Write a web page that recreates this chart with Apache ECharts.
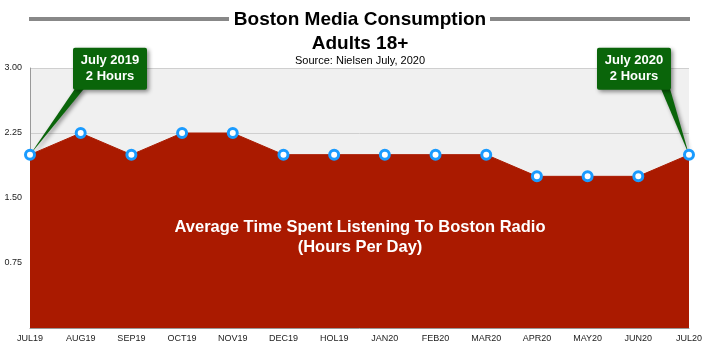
<!DOCTYPE html>
<html><head><meta charset="utf-8">
<script src="https://cdn.jsdelivr.net/npm/echarts@6/dist/echarts.min.js"></script>
<style>html,body{margin:0;padding:0;background:#fff}#c{width:705px;height:356px}</style>
</head><body><div id="c"></div>
<script>
const categories = ['JUL19','AUG19','SEP19','OCT19','NOV19','DEC19','HOL19','JAN20','FEB20','MAR20','APR20','MAY20','JUN20','JUL20'];
const hours = [2, 2.25, 2, 2.25, 2.25, 2, 2, 2, 2, 2, 1.75, 1.75, 1.75, 2];
const titleText = 'Boston Media Consumption';
const subTitleText = 'Adults 18+';
const sourceText = 'Source: Nielsen July, 2020';
const callouts = [
  {index: 0, lines: ['July 2019', '2 Hours'], side: 'left'},
  {index: 13, lines: ['July 2020', '2 Hours'], side: 'right'}
];
const centerText = ['Average Time Spent Listening To Boston Radio', '(Hours Per Day)'];

const FONT = '"Liberation Sans", Arial, sans-serif';
const chart = echarts.init(document.getElementById('c'));
chart.setOption({
  animation: false,
  textStyle: {fontFamily: FONT},
  grid: {left: 30, right: 13, top: 68, bottom: 28, show: true, backgroundColor: '#f0f0f0', borderWidth: 0},
  xAxis: {
    type: 'category', data: categories, boundaryGap: false,
    axisLine: {lineStyle: {color: '#999', width: 1}},
    axisTick: {show: false},
    axisLabel: {color: '#222', fontSize: 9, margin: 6, interval: 0}
  },
  yAxis: {
    type: 'value', min: 0, max: 3, interval: 0.75,
    axisLine: {show: true, lineStyle: {color: '#999'}},
    axisTick: {show: false},
    splitLine: {lineStyle: {color: '#cfcfcf'}},
    axisLabel: {color: '#222', fontSize: 9, margin: 8, formatter: v => v === 0 ? '' : v.toFixed(2)}
  },
  series: [{
    type: 'line', data: hours, clip: false,
    symbol: 'circle', symbolSize: 9,
    itemStyle: {color: '#fff', borderColor: '#1a9bff', borderWidth: 3},
    lineStyle: {color: '#aa1a00', width: 1},
    areaStyle: {color: '#aa1a00', opacity: 1}
  }]
});

const graphics = [
  {type: 'rect', shape: {x: 29, y: 17, width: 200, height: 4}, style: {fill: '#888'}},
  {type: 'rect', shape: {x: 490, y: 17, width: 200, height: 4}, style: {fill: '#888'}},
  {type: 'text', x: 360, y: 20, style: {text: titleText, font: 'bold 19px ' + FONT, fill: '#000', align: 'center', verticalAlign: 'middle'}},
  {type: 'text', x: 360, y: 44, style: {text: subTitleText, font: 'bold 19px ' + FONT, fill: '#000', align: 'center', verticalAlign: 'middle'}},
  {type: 'text', x: 360, y: 61, style: {text: sourceText, font: '11px ' + FONT, fill: '#000', align: 'center', verticalAlign: 'middle'}}
];
graphics.push({type: 'text', x: 360, y: 227, z: 10, style: {text: centerText[0], font: 'bold 16.5px ' + FONT, fill: '#fff', align: 'center', verticalAlign: 'middle'}});
graphics.push({type: 'text', x: 360, y: 247, z: 10, style: {text: centerText[1], font: 'bold 16.5px ' + FONT, fill: '#fff', align: 'center', verticalAlign: 'middle'}});

callouts.forEach(c => {
  const p = chart.convertToPixel({xAxisIndex: 0, yAxisIndex: 0}, [c.index, hours[c.index]]);
  const w = 74, h = 42;
  let bx, pts;
  if (c.side === 'left') {
    bx = p[0] + 43;
    pts = [[p[0] + 45, p[1] - 66], [p[0] + 54, p[1] - 66], [p[0], p[1]]];
  } else {
    bx = p[0] - 92;
    pts = [[p[0] - 28, p[1] - 66], [p[0] - 19, p[1] - 66], [p[0], p[1]]];
  }
  const by = p[1] - 107;
  const shadow = {shadowBlur: 4, shadowOffsetX: 2, shadowOffsetY: 2, shadowColor: 'rgba(0,0,0,0.45)'};
  graphics.push({type: 'polygon', z: 1, shape: {points: pts}, style: Object.assign({fill: '#0a650a'}, shadow)});
  graphics.push({type: 'rect', z: 1, shape: {x: bx, y: by, width: w, height: h, r: 2}, style: Object.assign({fill: '#0a650a'}, shadow)});
  graphics.push({type: 'text', z: 3, x: bx + w / 2, y: by + 13, style: {text: c.lines[0], font: 'bold 13px ' + FONT, fill: '#fff', align: 'center', verticalAlign: 'middle'}});
  graphics.push({type: 'text', z: 3, x: bx + w / 2, y: by + 29, style: {text: c.lines[1], font: 'bold 13px ' + FONT, fill: '#fff', align: 'center', verticalAlign: 'middle'}});
});
chart.setOption({graphic: graphics});
</script></body></html>
